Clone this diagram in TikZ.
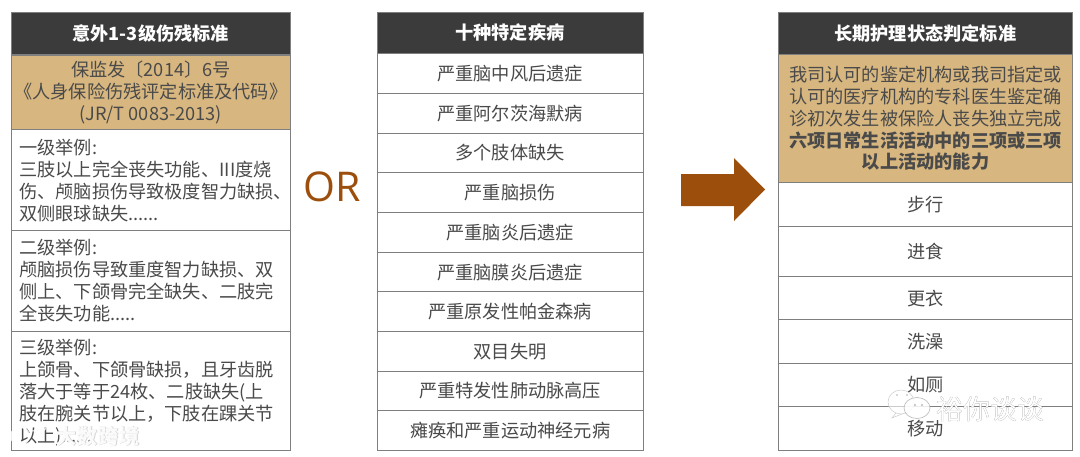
\documentclass[tikz,border=0pt]{standalone}
\usepackage{fontspec}
\setmainfont{Noto Sans CJK SC}
\newfontfamily\latinf{Open Sans}
\newcommand{\fwc}{\symbol{"FF0C}}
\definecolor{hdr}{HTML}{3B3B3B}
\definecolor{tanfill}{HTML}{D7B67F}
\definecolor{edge}{HTML}{7F7F7F}
\definecolor{txt}{HTML}{4A4A4A}
\definecolor{brn}{HTML}{9C4F0C}
\tikzset{
 cell/.style={draw=edge,line width=0.8pt,fill=white,text=txt,inner sep=0pt,anchor=north west,align=center,font=\fontsize{18.2}{22}\selectfont},
 hdrbox/.style={fill=hdr,draw=edge,line width=0.5pt,text=white,inner sep=0pt,anchor=north west,font=\fontsize{18.2}{22}\selectfont\bfseries},
 tanbox/.style={cell,fill=tanfill,font=\fontsize{18.2}{21.9}\selectfont},
 para/.style={anchor=north west,text=txt,inner sep=0pt,align=left,font=\fontsize{18.2}{22}\selectfont},
 wmark/.style={inner sep=0pt,font=\fontsize{27}{28}\selectfont}
}
\begin{document}
\begin{tikzpicture}[x=1pt,y=1pt]
\useasboundingbox (0,0) rectangle (1080,-456);
\fill[white] (0,0) rectangle (1080,-456);
% left column
\node[hdrbox,minimum width=279pt,minimum height=42pt] (a0) at (11,-12) {意外1-3级伤残标准};
\node[tanbox,minimum width=279pt,minimum height=75pt] (a1) at (11,-54.5) {保监发〔2014〕6号\\《人身保险伤残评定标准及代码》\\(JR/T 0083-2013)};
\node[cell,minimum width=279pt,minimum height=101pt] (a2) at (11,-129) {};
\node[para] (a2t) at (19,-138.5) {一级举例:\\三肢以上完全丧失功能、III度烧\\伤、颅脑损伤导致极度智力缺损、\\双侧眼球缺失......};
\node[cell,minimum width=279pt,minimum height=101pt] (a3) at (11,-230) {};
\node[para] (a3t) at (19,-239) {二级举例:\\颅脑损伤导致重度智力缺损、双\\侧上、下颌骨完全缺失、二肢完\\全丧失功能.....};
\node[cell,minimum width=279pt,minimum height=119pt] (a4) at (11,-331) {};
\node[para] (a4t) at (19,-338.5) {三级举例:\\上颌骨、下颌骨缺损\fwc{}且牙齿脱\\落大于等于24枚、二肢缺失(上\\肢在腕关节以上\fwc{}下肢在踝关节\\以上)......};
% OR
\node[text=brn,inner sep=0pt,font=\latinf\fontsize{41}{43}\selectfont] (or) at (332,-187) {OR};
% middle column
\node[hdrbox,minimum width=266pt,minimum height=41pt] (b0) at (376.7,-12) {十种特定疾病};
\foreach \n/\t/\yy in {1/严重脑中风后遗症/53,2/严重阿尔茨海默病/93,3/多个肢体缺失/132.5,4/严重脑损伤/172,5/严重脑炎后遗症/212,6/严重脑膜炎后遗症/252,7/严重原发性帕金森病/291,8/双目失明/331,9/严重特发性肺动脉高压/370.5,10/瘫痪和严重运动神经元病/410}{
 \node[cell,minimum width=266pt,minimum height=40pt] (b\n) at (376.7,-\yy) {\t};
}
% arrow
\fill[brn] (681,-174) -- (734,-174) -- (734,-158) -- (765,-189.5) -- (734,-221) -- (734,-206) -- (681,-206) -- cycle;
% right column
\node[hdrbox,minimum width=293.4pt,minimum height=42pt] (c0) at (778.4,-12) {长期护理状态判定标准};
\node[tanbox,minimum width=293.4pt,minimum height=128pt] (c1) at (778.4,-54) {我司认可的鉴定机构或我司指定或\\认可的医疗机构的专科医生鉴定确\\诊初次发生被保险人丧失独立完成\\\textbf{六项日常生活活动中的三项或三项}\\\textbf{以上活动的能力}};
\foreach \n/\t/\yy/\hh in {2/步行/182/43.7,3/进食/225.7/50.3,4/更衣/276/43.3,5/洗澡/319.3/43.7,6/如厕/363/43,7/移动/406/44}{
 \node[cell,minimum width=293.4pt,minimum height=\hh pt] (c\n) at (778.4,-\yy) {\t};
}
% watermarks, lower left
\node[inner sep=0pt,text=gray!35,font=\fontsize{21}{22}\selectfont\bfseries] (w1s) at (98.5,-436.5) {大数跨境};
\node[inner sep=0pt,text=white,opacity=.9,font=\fontsize{21}{22}\selectfont\bfseries] (w1) at (98,-436) {大数跨境};
\draw[white,opacity=.85,line width=1.8pt] (20,-436) circle (9);
\draw[white,opacity=.8,line width=1.2pt] (33,-427) circle (4) (42,-427) circle (4);
% watermarks, lower right
\draw[gray!40,fill=white,fill opacity=.6,line width=.5pt] (901,-402) ellipse (13 and 12);
\draw[gray!40,line width=.5pt] (896,-413) -- (892,-418) -- (902,-414);
\fill[gray!60] (897,-395) circle (.8) (907,-395) circle (.8);
\draw[gray!55,fill=white,fill opacity=.85,line width=.6pt] (917,-408) ellipse (13 and 10.5);
\fill[gray!80] (915,-405) circle (.9) (922,-405) circle (.9);
\node[wmark,text=black!60] (w2s) at (990.7,-409.7) {裕你谈谈};
\node[wmark,text=white] (w2) at (990,-409) {裕你谈谈};
\end{tikzpicture}
\end{document}
